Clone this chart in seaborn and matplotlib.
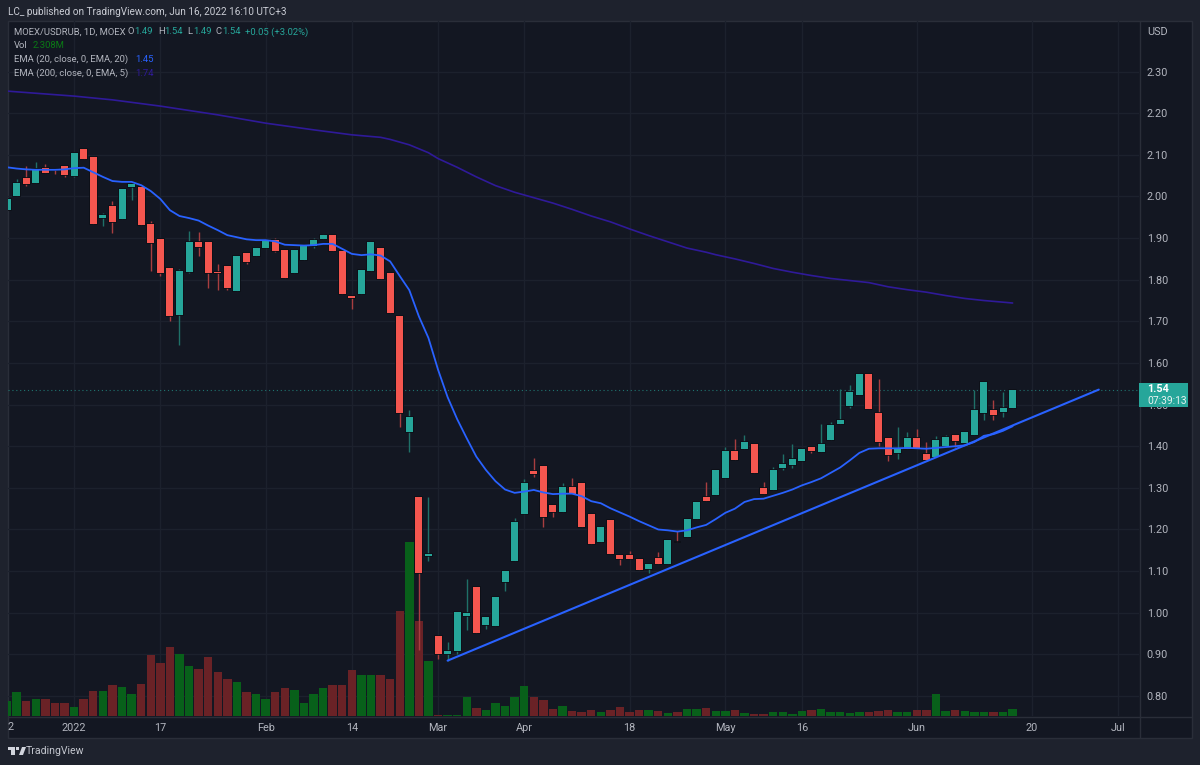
import numpy as np
import pandas as pd
import matplotlib
matplotlib.use("Agg")
import matplotlib.pyplot as plt
from matplotlib.patches import Rectangle, Polygon
from matplotlib.lines import Line2D
import matplotlib.patheffects as pe
import seaborn as sns

opens = [1.968,2.000,2.044,2.033,2.069,2.066,2.072,2.050,2.115,2.094,1.949,1.976,1.945,2.022,2.023,1.933,1.898,1.828,1.716,1.819,1.890,1.890,1.818,1.834,1.774,1.863,1.858,1.875,1.895,1.871,1.817,1.847,1.881,1.898,1.908,1.869,1.761,1.765,1.822,1.876,1.816,1.712,1.433,1.279,1.136,.944,.901,.907,.992,1.062,.970,.967,1.074,1.125,1.238,1.340,1.352,1.259,1.242,1.303,1.312,1.237,1.170,1.222,1.139,1.139,1.129,1.104,1.132,1.118,1.171,1.181,1.226,1.278,1.284,1.324,1.388,1.394,1.406,1.300,1.295,1.348,1.354,1.365,1.398,1.387,1.414,1.454,1.496,1.522,1.574,1.480,1.420,1.383,1.393,1.420,1.382,1.374,1.401,1.427,1.408,1.426,1.480,1.486,1.482,1.492]
highs = [1.993,2.042,2.072,2.083,2.077,2.066,2.072,2.104,2.115,2.094,1.960,1.988,2.017,2.030,2.023,1.941,1.898,1.828,1.826,1.916,1.915,1.890,1.838,1.834,1.858,1.863,1.877,1.895,1.900,1.871,1.871,1.882,1.901,1.909,1.908,1.869,1.761,1.824,1.891,1.876,1.816,1.712,1.487,1.279,1.279,.944,.930,1.002,1.080,1.062,.989,1.039,1.101,1.227,1.321,1.372,1.352,1.259,1.311,1.324,1.312,1.237,1.208,1.222,1.139,1.149,1.129,1.118,1.145,1.174,1.197,1.224,1.265,1.314,1.343,1.397,1.418,1.428,1.406,1.314,1.349,1.381,1.406,1.394,1.398,1.454,1.458,1.538,1.546,1.574,1.574,1.561,1.420,1.447,1.434,1.442,1.409,1.424,1.426,1.427,1.433,1.534,1.555,1.512,1.530,1.536]
lows = [1.968,2.000,2.026,2.033,2.057,2.053,2.046,2.046,2.091,1.933,1.928,1.911,1.945,1.992,1.931,1.821,1.810,1.700,1.643,1.815,1.856,1.781,1.776,1.776,1.774,1.838,1.858,1.875,1.867,1.804,1.817,1.847,1.877,1.898,1.868,1.765,1.730,1.765,1.822,1.802,1.721,1.446,1.387,.911,1.125,.889,.885,.900,.958,.952,.962,.967,1.052,1.125,1.238,1.326,1.207,1.230,1.242,1.286,1.206,1.164,1.170,1.141,1.115,1.129,1.103,1.095,1.117,1.118,1.169,1.181,1.226,1.269,1.284,1.324,1.366,1.394,1.336,1.286,1.295,1.344,1.348,1.365,1.383,1.387,1.414,1.454,1.491,1.522,1.490,1.400,1.365,1.369,1.393,1.393,1.366,1.374,1.401,1.397,1.408,1.426,1.462,1.464,1.470,1.492]
closes = [1.993,2.033,2.031,2.066,2.057,2.063,2.052,2.104,2.091,1.933,1.956,1.939,2.017,2.030,1.931,1.889,1.815,1.714,1.822,1.891,1.878,1.817,1.815,1.781,1.858,1.843,1.877,1.895,1.869,1.804,1.871,1.882,1.895,1.907,1.868,1.765,1.757,1.824,1.891,1.802,1.721,1.480,1.470,1.096,1.140,.901,.909,1.002,1.000,.952,.989,1.039,1.101,1.218,1.312,1.333,1.230,1.242,1.303,1.286,1.206,1.164,1.205,1.141,1.130,1.129,1.103,1.118,1.117,1.174,1.169,1.224,1.265,1.269,1.343,1.388,1.366,1.409,1.336,1.286,1.343,1.358,1.370,1.394,1.389,1.406,1.450,1.463,1.530,1.574,1.490,1.410,1.378,1.394,1.419,1.393,1.366,1.416,1.421,1.412,1.433,1.487,1.555,1.474,1.491,1.536]
volumes = [5.2,8.2,5.2,5.9,5.9,4.4,4.4,3.2,5.9,8.6,8.6,10.8,10.0,7.8,11.1,21.1,18.3,23.8,21.6,17.3,16.3,20.5,15.1,13.0,11.9,8.4,7.6,5.9,8.4,9.8,8.9,4.6,7.8,9.7,10.6,10.6,15.9,14.1,14.3,14.1,12.7,36.3,60.2,32.9,19.0,.2,.2,.2,6.5,2.8,2.2,4.4,3.5,6.5,10.3,6.6,5.5,2.4,3.3,1.6,1.4,2.1,1.4,2.0,3.0,1.4,2.1,2.2,1.6,1.0,1.4,2.4,2.4,2.8,1.6,1.6,2.0,1.0,.8,.8,1.4,1.4,.8,1.6,2.1,2.4,1.4,1.4,1.0,1.4,1.4,1.8,2.1,1.4,1.4,2.1,2.0,7.8,1.6,2.0,1.6,1.4,1.4,1.4,1.4,2.3]
ema20 = [2.070,2.067,2.065,2.064,2.064,2.064,2.065,2.068,2.069,2.058,2.047,2.037,2.035,2.035,2.027,2.013,1.994,1.967,1.953,1.948,1.942,1.930,1.919,1.907,1.902,1.897,1.895,1.895,1.892,1.884,1.883,1.882,1.883,1.886,1.886,1.874,1.862,1.859,1.861,1.858,1.844,1.809,1.775,1.712,1.660,1.584,1.518,1.465,1.419,1.375,1.343,1.316,1.296,1.288,1.291,1.295,1.289,1.285,1.286,1.286,1.280,1.268,1.263,1.251,1.241,1.231,1.220,1.210,1.200,1.198,1.195,1.198,1.205,1.211,1.225,1.240,1.250,1.266,1.273,1.274,1.281,1.288,1.296,1.306,1.314,1.323,1.336,1.349,1.366,1.384,1.394,1.395,1.395,1.395,1.396,1.395,1.394,1.396,1.398,1.400,1.402,1.410,1.425,1.429,1.437,1.448]
ema200_idx = [0,7,11,16,22,27,32,36,39,40,42,44,45,47,49,51,53,55,57,59,61,63,65,67,69,71,73,74,76,78,80,82,84,86,88,90,92,94,96,98,100,102,105]
ema200 = [2.253,2.241,2.232,2.217,2.196,2.176,2.160,2.148,2.142,2.137,2.124,2.105,2.091,2.070,2.047,2.026,2.010,1.997,1.984,1.969,1.953,1.939,1.922,1.906,1.891,1.876,1.866,1.860,1.850,1.839,1.827,1.818,1.810,1.803,1.798,1.793,1.783,1.776,1.770,1.762,1.755,1.750,1.744]
trend_idx = [46, 114]
trend_price = [0.885, 1.536]
last_price = 1.536
time_pos = [7,16,27,36,45,54,65,75,83,95,107,116]
time_labels = ["2022","17","Feb","14","Mar","Apr","18","May","16","Jun","20","Jul"]
price_ticks = [0.8,0.9,1.0,1.1,1.2,1.3,1.4,1.5,1.6,1.7,1.8,1.9,2.0,2.1,2.2,2.3]

OUTER, INNER, GRID, LINE, TXT = "#1e222d", "#131722", "#1c212d", "#2a2e39", "#b2b5be"
UP, DOWN = "#26a69a", "#f4564f"
UPW, DOWNW = "#1f7068", "#a83e40"
VUP, VDOWN = "#08601a", "#6a2226"
BLUE, PURPLE = "#2962ff", "#2f1a99"

sns.set_theme(style="dark")
plt.rcParams["font.family"] = ["Roboto", "DejaVu Sans"]

W, H = 1200, 765
fig = plt.figure(figsize=(12, 7.65), dpi=100, facecolor=OUTER)
L, R, T, B = 8, 1139, 21, 716
pos = [L/W, 1-B/H, (R-L)/W, (B-T)/H]
xlim = (0.094, 118.2)
ylim = (0.752, 2.4214)

def add_ax(z):
    a = fig.add_axes(pos, zorder=z)
    a.set_xlim(*xlim)
    a.patch.set_alpha(0)
    a.grid(False)
    for s in a.spines.values():
        s.set_visible(False)
    return a

fig.add_artist(Rectangle((7.5/W, 1-738/H), 1184.5/W, 717/H, transform=fig.transFigure,
                         fc=INNER, ec=LINE, lw=1, zorder=-5))

ax_bg = add_ax(0)
ax_bg.set_ylim(*ylim)
ax_bg.set_xticks(time_pos, time_labels)
ax_bg.yaxis.tick_right()
ax_bg.set_yticks(price_ticks, [f"{p:.2f}" for p in price_ticks])
ax_bg.grid(True, color=GRID, lw=1)
ax_bg.tick_params(axis="x", length=0, pad=5, labelsize=7.8, labelcolor=TXT)
ax_bg.tick_params(axis="y", length=0, pad=5.5, labelsize=7.8, labelcolor=TXT)
ax_bg.set_xlabel(""); ax_bg.set_ylabel("")

df = pd.DataFrame({"i": np.arange(len(opens)), "o": opens, "h": highs, "l": lows, "c": closes, "v": volumes})
df["dir"] = np.where(df.c >= df.o, "up", "down")

ax_v = add_ax(1)
sns.barplot(data=df, x="i", y="v", hue="dir", palette={"up": VUP, "down": VDOWN},
            native_scale=True, dodge=False, width=0.88, legend=False, ax=ax_v,
            saturation=1, linewidth=0)
ax_v.set_xlim(*xlim)
ax_v.set_ylim(0, 241)
ax_v.axis("off")

ax = add_ax(2)
ax.set_ylim(*ylim)
ax.axis("off")
ax.axhline(last_price, color=UP, lw=0.8, ls=(0, (1, 2.5)), alpha=0.65)
for d, wc, bc in (("up", UPW, UP), ("down", DOWNW, DOWN)):
    s = df[df.dir == d]
    ax.vlines(s.i, s.l, s.h, color=wc, lw=1, zorder=2)
    bars = ax.bar(s.i, (s.c - s.o).abs(), bottom=s[["o", "c"]].min(axis=1), width=0.73,
                  color=bc, linewidth=0, zorder=3)
    for b in bars:
        b.set_path_effects([pe.withStroke(linewidth=1.2, foreground="#0c0f16")])
sns.lineplot(x=df.i, y=ema20, color=BLUE, lw=1.3, ax=ax, errorbar=None, zorder=4)
sns.lineplot(x=ema200_idx, y=ema200, color=PURPLE, lw=1.2, ax=ax, errorbar=None, zorder=4)
sns.lineplot(x=trend_idx, y=trend_price, color=BLUE, lw=1.5, ax=ax, errorbar=None, zorder=4)
ax.set_xlim(*xlim); ax.set_ylim(*ylim)

def line(x0, y0, x1, y1, c=LINE, lw=1):
    fig.add_artist(Line2D([x0/W, x1/W], [1-y0/H, 1-y1/H], color=c, lw=lw, zorder=5))
line(8, 716.5, 1192, 716.5)
line(1139.5, 21, 1139.5, 738)

def txt(x, y, s, c=TXT, size=7.0, **kw):
    fig.text(x/W, 1-y/H, s, color=c, fontsize=size, va="center", ha=kw.pop("ha", "left"), zorder=6, **kw)

txt(8, 12, "LC_ published on TradingView.com, Jun 16, 2022 16:10 UTC+3", c="#c9ccd4", size=7.2)
LEG = 6.8
txt(14, 32, "MOEX/USDRUB, 1D, MOEX", size=LEG)
for x, s in ((128, "O"), (158, "H"), (187, "L"), (216, "C")):
    txt(x, 32, s, size=LEG)
for x, s in ((134, "1.49"), (164, "1.54"), (193, "1.49"), (222, "1.54"), (245, "+0.05 (+3.02%)")):
    txt(x, 32, s, c=UP, size=LEG)
txt(14, 46, "Vol", size=LEG)
txt(33, 46, "2.308M", c="#0a7a15", size=LEG)
txt(14, 59, "EMA (20, close, 0, EMA, 20)", size=LEG)
txt(135, 59, "1.45", c=BLUE, size=LEG)
txt(14, 73, "EMA (200, close, 0, EMA, 5)", size=LEG)
txt(135, 73, "1.74", c=PURPLE, size=LEG)
txt(1147, 32, "USD", size=7.8)
txt(7.5, 727, "2", size=7.8)

fig.add_artist(Rectangle((1139/W, 1-407/H), 49/W, 24/H, transform=fig.transFigure, fc=UP, ec="none", zorder=5))
txt(1147, 389.5, "1.54", c="#ffffff", size=7.8, fontweight="bold")
txt(1147, 400.5, "07:39:13", c="#e8f3f1", size=7.4)

logo = "#d1d4dc"
fig.add_artist(Rectangle((8/W, 1-750/H), 7/W, 3/H, transform=fig.transFigure, fc=logo, ec="none", zorder=6))
fig.add_artist(Rectangle((11/W, 1-755/H), 3.5/W, 6/H, transform=fig.transFigure, fc=logo, ec="none", zorder=6))
fig.add_artist(Polygon([(19/W, 1-755/H), (23/W, 1-755/H), (26/W, 1-747/H), (22/W, 1-747/H)],
                       closed=True, transform=fig.transFigure, fc=logo, ec="none", zorder=6))
fig.add_artist(Rectangle((16/W, 1-750/H), 3/W, 3/H, transform=fig.transFigure, fc=logo, ec="none", zorder=6))
txt(26, 751.5, "TradingView", c="#c3c6ce", size=7.6)

fig.savefig("out.png", dpi=100, facecolor=OUTER)
